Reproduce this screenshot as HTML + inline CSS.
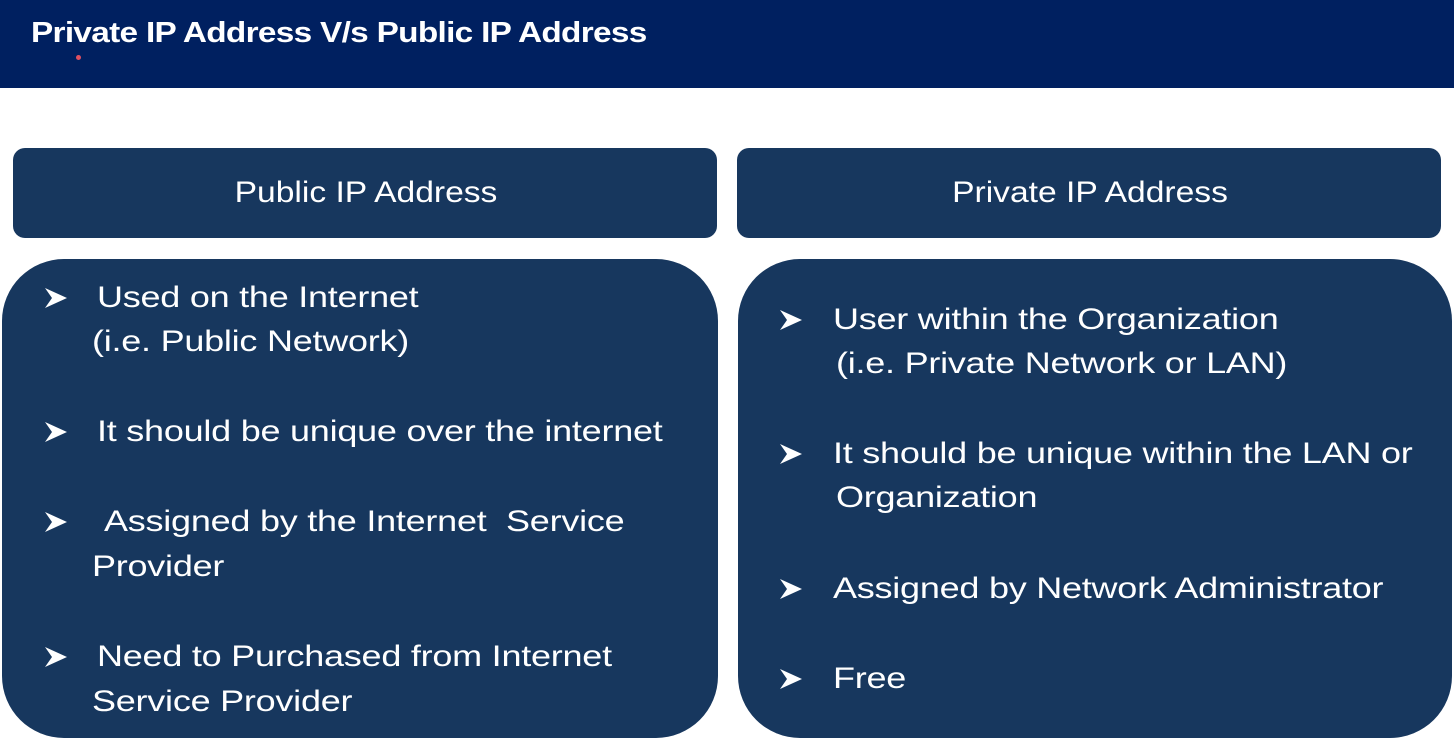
<!DOCTYPE html>
<html><head><meta charset="utf-8"><style>
body{margin:0;width:1454px;height:744px;background:#fff;position:relative;overflow:hidden;font-family:"Liberation Sans",sans-serif;}
.hdr{position:absolute;left:0;top:0;width:1454px;height:88px;background:#002060;}
.title{position:absolute;left:31px;top:13px;color:#fff;font-weight:bold;font-size:29px;letter-spacing:-0.6px;line-height:40px;transform:scaleX(1.15);transform-origin:0 0;white-space:nowrap;}
.box{position:absolute;background:#17375e;}
.h{position:absolute;color:#fff;font-size:30px;line-height:40px;white-space:nowrap;transform:translateX(-50%) scaleX(1.12);}
.t{position:absolute;color:#fff;font-size:30px;line-height:40px;white-space:nowrap;letter-spacing:-0.2px;transform:scaleX(1.2);transform-origin:0 0;}
svg.b{position:absolute;width:24px;height:22px;}
</style></head><body>
<div class="hdr"></div>
<div class="title">Private IP Address V/s Public IP Address</div>
<div style="position:absolute;left:76px;top:55px;width:5px;height:5px;border-radius:50%;background:#e05060;"></div>

<div class="box" style="left:13px;top:148px;width:704px;height:90px;border-radius:12px;"></div>
<div class="box" style="left:737px;top:148px;width:704px;height:90px;border-radius:12px;"></div>
<div class="h" style="left:366px;top:173px;">Public IP Address</div>
<div class="h" style="left:1090px;top:173px;">Private IP Address</div>

<div class="box" style="left:2px;top:259px;width:716px;height:479px;border-radius:62px;"></div>
<div class="box" style="left:738px;top:259px;width:714px;height:479px;border-radius:62px;"></div>

<svg class="b" style="left:44px;top:287px" viewBox="0 0 24 22"><path d="M1 1 L23 11 L1 21 L8 11 Z" fill="#fff"/></svg>
<svg class="b" style="left:44px;top:421px" viewBox="0 0 24 22"><path d="M1 1 L23 11 L1 21 L8 11 Z" fill="#fff"/></svg>
<svg class="b" style="left:44px;top:511px" viewBox="0 0 24 22"><path d="M1 1 L23 11 L1 21 L8 11 Z" fill="#fff"/></svg>
<svg class="b" style="left:44px;top:646px" viewBox="0 0 24 22"><path d="M1 1 L23 11 L1 21 L8 11 Z" fill="#fff"/></svg>

<div class="t" style="left:97px;top:278px">Used on the Internet</div>
<div class="t" style="left:92px;top:322px">(i.e. Public Network)</div>
<div class="t" style="left:97px;top:412px">It should be unique over the internet</div>
<div class="t" style="left:104px;top:502px">Assigned by the Internet&nbsp; Service</div>
<div class="t" style="left:92px;top:547px">Provider</div>
<div class="t" style="left:97px;top:637px">Need to Purchased from Internet</div>
<div class="t" style="left:92px;top:682px">Service Provider</div>

<svg class="b" style="left:779px;top:309px" viewBox="0 0 24 22"><path d="M1 1 L23 11 L1 21 L8 11 Z" fill="#fff"/></svg>
<svg class="b" style="left:779px;top:443px" viewBox="0 0 24 22"><path d="M1 1 L23 11 L1 21 L8 11 Z" fill="#fff"/></svg>
<svg class="b" style="left:779px;top:578px" viewBox="0 0 24 22"><path d="M1 1 L23 11 L1 21 L8 11 Z" fill="#fff"/></svg>
<svg class="b" style="left:779px;top:668px" viewBox="0 0 24 22"><path d="M1 1 L23 11 L1 21 L8 11 Z" fill="#fff"/></svg>

<div class="t" style="left:833px;top:300px">User within the Organization</div>
<div class="t" style="left:836px;top:344px">(i.e. Private Network or LAN)</div>
<div class="t" style="left:833px;top:434px">It should be unique within the LAN or</div>
<div class="t" style="left:836px;top:478px">Organization</div>
<div class="t" style="left:833px;top:569px">Assigned by Network Administrator</div>
<div class="t" style="left:833px;top:659px">Free</div>
</body></html>
